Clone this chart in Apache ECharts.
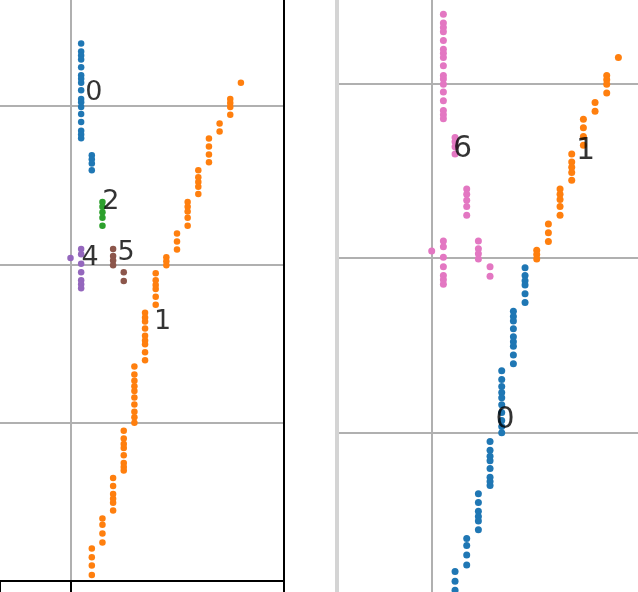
<!DOCTYPE html>
<html>
<head>
<meta charset="utf-8">
<script src="https://cdn.jsdelivr.net/npm/echarts@6/dist/echarts.min.js"></script>
<style>
html,body{margin:0;padding:0;background:#fff;}
#chart{width:638px;height:592px;}
</style>
</head>
<body>
<div id="chart"></div>
<script>
// ---- data: [x, y] points (same points shown in both panels, clustered differently) ----
const topColumn = [[1,67.9],[1,66.9],[1,66.4],[1,65.9],[1,64.9],[1,63.9],[1,63.45],[1,62.95],[1,62.0],[1,60.9],[1,60.5],[1,59.9],[1,59.0],[1,58.0],[1,56.9],[1,56.4],[1,55.95],
                   [2,53.8],[2,53.3],[2,52.75],[2,51.9]];
const greenGroup = [[3,47.9],[3,47.3],[3,46.6],[3,45.9],[3,44.9]];
const purpleGroup = [[0,40.8],[1,41.95],[1,41.3],[1,40.1],[1,39.0],[1,38.0],[1,37.5],[1,37.0]];
const brownGroup = [[4,41.95],[4,41.05],[4,40.5],[4,39.9],[5,39.0],[5,37.9]];
const stairLow = [[2,4.1],[2,3.0],[2,1.95],[2,0.76],
                  [3,7.9],[3,7.1],[3,6.0],[3,4.85],
                  [4,13.0],[4,12.0],[4,11.0],[4,10.4],[4,9.9],[4,8.9],
                  [5,19.0],[5,18.0],[5,17.3],[5,16.8],[5,15.9],[5,14.9],[5,14.4],[5,13.95],
                  [6,27.1],[6,26.1],[6,25.3],[6,24.6],[6,24.0],[6,23.2],[6,22.3],[6,21.4],[6,20.7],[6,20.0],
                  [7,33.9],[7,33.3],[7,32.8],[7,31.9],[7,31.0],[7,30.4],[7,29.9],[7,28.9],[7,27.9],
                  [8,38.9],[8,38.0],[8,37.4],[8,36.9],[8,35.9],[8,34.9]];
const stairHigh = [[9,40.9],[9,40.4],[9,39.9],
                   [10,43.9],[10,42.9],[10,41.9],
                   [11,47.9],[11,47.3],[11,46.7],[11,45.9],[11,44.9],
                   [12,51.9],[12,51.0],[12,50.4],[12,49.8],[12,48.9],
                   [13,55.9],[13,54.9],[13,53.9],[13,52.9],
                   [14,57.8],[14,56.8],
                   [15,60.9],[15,60.4],[15,59.9],[15,58.9],
                   [16,62.95]];
// cluster labels: [text, x, y]
const leftLabels = [['0',2.19,61.72],['2',3.78,47.92],['4',1.83,40.77],['5',5.21,41.4],['1',8.64,32.79]];
const rightLabels = [['6',2.64,52.42],['1',13.18,52.19],['0',6.28,21.46]];
// visible axis ranges (panels are cropped); grid lines every 20 units
const leftXRange = [-6.62, 20];
const leftYRange = [0, 73.41];
const rightXRange = [-8.16, 17.68];
const rightYRange = [1.763, 69.54];
const gridStep = 20;

const C = {c0:'#1f77b4', c1:'#ff7f0e', c2:'#2ca02c', c4:'#9467bd', c5:'#8c564b', c6:'#e377c2'};
const gridColor = '#b0b0b0';

function dots(data, color, gi, size){
  return {type:'scatter', xAxisIndex:gi, yAxisIndex:gi, data:data, symbol:'circle', symbolSize:size,
          itemStyle:{color:color, opacity:1}, silent:true, z:3, clip:false};
}
function labels(list, gi, fs){
  return {type:'scatter', xAxisIndex:gi, yAxisIndex:gi, symbol:'circle', symbolSize:1,
          itemStyle:{color:'rgba(0,0,0,0)'}, silent:true, z:5, clip:false,
          data:list.map(l=>({name:l[0], value:[l[1], l[2]]})),
          label:{show:true, formatter:'{b}', position:'inside', align:'center', verticalAlign:'middle',
                 color:'#000', fontSize:fs, fontFamily:'DejaVu Sans', textBorderWidth:0}};
}
const split = {show:true, showMinLine:false, showMaxLine:false, lineStyle:{color:gridColor, width:2}};

const chart = echarts.init(document.getElementById('chart'), null, {renderer:'canvas'});
chart.setOption({
  animation:false,
  backgroundColor:'#fff',
  grid:[
    {left:0, right:354.5, top:0, bottom:11},
    {left:336.5, right:0, top:0, bottom:0}
  ],
  xAxis:[
    {gridIndex:0, type:'value', min:leftXRange[0], max:leftXRange[1], minInterval:gridStep, maxInterval:gridStep,
     axisLine:{show:true, onZero:false, lineStyle:{color:'#000', width:2}},
     axisTick:{show:true, inside:false, length:14, lineStyle:{color:'#000', width:2}},
     axisLabel:{show:false},
     splitLine:split},
    {gridIndex:1, type:'value', min:rightXRange[0], max:rightXRange[1], minInterval:gridStep, maxInterval:gridStep,
     axisLine:{show:false}, axisTick:{show:false}, axisLabel:{show:false},
     splitLine:split}
  ],
  yAxis:[
    {gridIndex:0, type:'value', min:leftYRange[0], max:leftYRange[1], minInterval:gridStep, maxInterval:gridStep, position:'right',
     axisLine:{show:true, onZero:false, lineStyle:{color:'#000', width:2}},
     axisTick:{show:false}, axisLabel:{show:false},
     splitLine:split},
    {gridIndex:1, type:'value', min:rightYRange[0], max:rightYRange[1], minInterval:gridStep, maxInterval:gridStep, position:'left',
     axisLine:{show:true, onZero:false, lineStyle:{color:'#d4d4d4', width:4}},
     axisTick:{show:false}, axisLabel:{show:false},
     splitLine:split}
  ],
  series:[
    dots(topColumn, C.c0, 0, 6.5),
    dots(stairLow.concat(stairHigh), C.c1, 0, 6.5),
    dots(greenGroup, C.c2, 0, 6.5),
    dots(purpleGroup, C.c4, 0, 6.5),
    dots(brownGroup, C.c5, 0, 6.5),
    labels(leftLabels, 0, 27),
    dots(stairLow, C.c0, 1, 7),
    dots(stairHigh, C.c1, 1, 7),
    dots(topColumn.concat(greenGroup, purpleGroup, brownGroup), C.c6, 1, 7),
    labels(rightLabels, 1, 30)
  ]
});
</script>
</body>
</html>
